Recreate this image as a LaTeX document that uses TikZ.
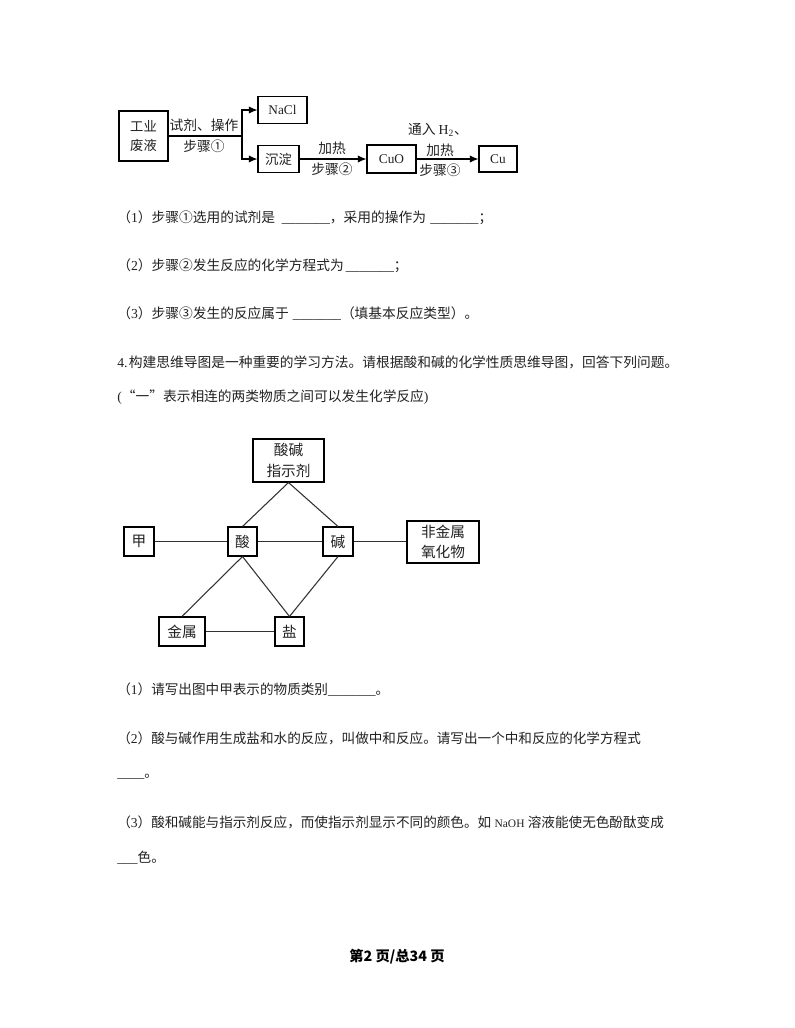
\documentclass[tikz,border=0pt]{standalone}
\usepackage{fontspec}
\setmainfont{Noto Sans CJK SC}
\newfontfamily\latfont{Liberation Serif}
\newcommand\lat[1]{{\latfont #1}}
\newcommand\blankline[1]{{\latfont\foreach \i in {1,...,#1}{\_}}}
\usetikzlibrary{arrows.meta}
\definecolor{ink}{HTML}{222222}
\definecolor{wire}{HTML}{333333}
\tikzset{
  box/.style 2 args={draw=black,line width=0.8pt,fill=white,inner sep=0pt,align=center,text=ink,minimum width=#1*0.75pt,minimum height=#2*0.75pt},
  lab/.style={inner sep=0pt,align=center,text=ink,font=\fontsize{10.3}{13}\selectfont},
  big/.style={font=\fontsize{11}{15.5}\selectfont},
  mid/.style={font=\fontsize{10}{14.5}\selectfont},
  para/.style={anchor=west,inner sep=0pt,text=ink,font=\fontsize{10.3}{13}\selectfont},
  paras/.style={anchor=west,inner sep=0pt,text=ink,font=\fontsize{10.2}{13}\selectfont},
  wirel/.style={draw=wire,line width=0.8pt},
  arrowl/.style={draw=black,line width=0.8pt,-{Latex[length=6.5pt,width=5.5pt]}},
}
\begin{document}
\begin{tikzpicture}[x=0.75pt,y=-0.75pt]
\useasboundingbox[fill=white] (0,0) rectangle (794,1028);
% flow diagram
\node[box={49}{50},mid] (gy) at (143.5,136) {工业\\废液};
\node[box={49}{27},mid] (nacl) at (282.5,110) {\lat{NaCl}};
\node[box={41}{27},mid] (cd) at (278.5,159) {沉淀};
\node[box={49}{28},mid] (cuo) at (391.5,159) {\lat{CuO}};
\node[box={38}{26},mid] (cu) at (498,159) {\lat{Cu}};
\coordinate (j) at (242,136);
\draw[wirel,draw=black] (gy.east) -- (j);
\draw[arrowl] (j) |- (nacl.west);
\draw[arrowl] (j) |- (cd.west);
\draw[arrowl] (cd.east) -- (cuo.west);
\draw[arrowl] (cuo.east) -- (cu.west);
\node[lab] (l1) at (204,125) {试剂、操作};
\node[lab] (l2) at (204,146) {步骤①};
\node[lab] (l3) at (332,148) {加热};
\node[lab] (l4) at (332,169) {步骤②};
\node[lab] (l5) at (438,130) {通入 \lat{H\textsubscript{2}}、};
\node[lab] (l6) at (440,150) {加热};
\node[lab] (l7) at (440,170) {步骤③};
% questions
\node[para] (q1) at (117,218) {（\lat{1}）步骤①选用的试剂是\hspace{5pt}\blankline{7}，采用的操作为\hspace{3.3pt}\blankline{7}；};
\node[para] (q2) at (117,266) {（\lat{2}）步骤②发生反应的化学方程式为\hspace{1.5pt}\blankline{7}；};
\node[para] (q3) at (117,314) {（\lat{3}）步骤③发生的反应属于\hspace{3pt}\blankline{7}（填基本反应类型）。};
\node[para] (q4) at (117,362) {\lat{4.}\hspace{1pt}构建思维导图是一种重要的学习方法。请根据酸和碱的化学性质思维导图，回答下列问题。};
\node[para] (q5) at (117,397) {\lat{(}“一”表示相连的两类物质之间可以发生化学反应\lat{)}};
% mind map
\node[box={71}{43},big] (zs) at (288.5,460.5) {酸碱\\指示剂};
\node[box={30}{29},big] (jia) at (139,541.5) {甲};
\node[box={29}{29},big] (suan) at (242.5,541.5) {酸};
\node[box={30}{29},big] (jian) at (338,541.5) {碱};
\node[box={72}{42},big] (fj) at (443,542) {非金属\\氧化物};
\node[box={46}{29},big] (jsh) at (182,631.5) {金属};
\node[box={29}{29},big] (yan) at (289.5,631.5) {盐};
\draw[wirel] (zs.south) -- (suan.north);
\draw[wirel] (zs.south) -- (jian.north);
\draw[wirel] (jia.east) -- (suan.west);
\draw[wirel] (suan.east) -- (jian.west);
\draw[wirel] (jian.east) -- (fj.west |- jian.east);
\draw[wirel] (suan.south) -- (jsh.north);
\draw[wirel] (suan.south) -- (yan.north);
\draw[wirel] (jian.south) -- (yan.north);
\draw[wirel] (jsh.east) -- (yan.west);
% questions
\node[paras] (r1) at (117,690) {（\lat{1}）请写出图中甲表示的物质类别\blankline{7}。};
\node[paras] (r2) at (117,738) {（\lat{2}）酸与碱作用生成盐和水的反应，叫做中和反应。请写出一个中和反应的化学方程式};
\node[paras] (r3) at (117,777) {\blankline{4}。};
\node[paras] (r4) at (117,822) {（\lat{3}）酸和碱能与指示剂反应，而使指示剂显示不同的颜色。如\hspace{2.5pt}{\latfont\fontsize{8.6}{13}\selectfont NaOH}\hspace{2.5pt}溶液能使无色酚酞变成};
\node[paras] (r5) at (117,858) {\blankline{3}色。};
\node[inner sep=0pt,text=black,font=\fontsize{10.7}{13}\selectfont\bfseries] (foot) at (397,957) {第2 页/总34 页};
\end{tikzpicture}
\end{document}
